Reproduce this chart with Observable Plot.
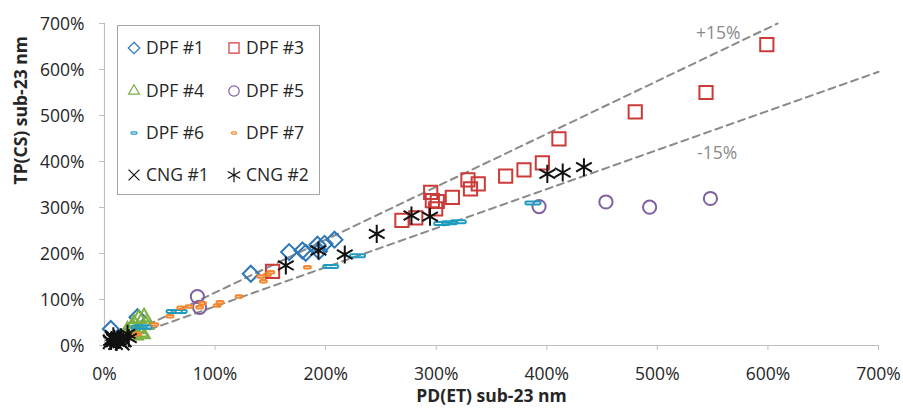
<!DOCTYPE html>
<html><head><meta charset="utf-8">
<script src="https://cdn.jsdelivr.net/npm/d3@7"></script>
<script src="https://cdn.jsdelivr.net/npm/@observablehq/plot@0.6"></script>
<style>
body{margin:0;background:#fff;}
#wrap{position:relative;width:903px;height:410px;font-family:"Open Sans",sans-serif;}
#legend{position:absolute;left:0;top:0;}
</style></head><body><div id="wrap"></div>
<script>
// [PD(ET) %, TP(CS) %]
const dpf1 = [[5.7,36],[29.8,61.5],[12,16],[18,20],[132.3,156],[167,203],[179,206.5],[182,201.5],[192.6,219],[194,205],[199,221],[208,230]];
const dpf3 = [[152,161],[269,272],[281.5,277.6],[295,333],[296.5,315],[301,313],[299.5,297],[314.6,322],[328.7,360],[331,340.6],[338,351.5],[362.8,368],[379.4,382],[396,397],[411,449],[480,508],[544,550],[599,654]];
const dpf4 = [[20.8,32.6],[25.3,40],[26.6,47.6],[29.8,36],[31,58],[32.8,29],[35.8,61.5],[34.4,25],[28,22],[37.3,45]];
const dpf5 = [[84,106.5],[86,83],[393,302],[453.5,312],[493,300.7],[548,319.6]];
const dpf6 = [[31.3,40],[35.8,40],[63,74],[67.5,74],[204.6,171.7],[228.8,195],[305,265],[312,267],[320,269],[387.5,310]];
const dpf7 = [[25,22],[30,25],[45.5,45.6],[59.3,63.7],[69,82],[76.5,84.8],[86,83],[88.6,92],[102,87],[104.5,94],[121.7,106.5],[141.3,150],[143.7,139.8],[147.4,154],[150.4,159],[183.5,170]];
const cng1 = [[5,8],[8,12],[10,6],[12,15],[14,10],[7,18],[16,5],[18,12]];
const cng2 = [[6,10],[8.7,14.6],[11,8],[13,12],[20.8,25.4],[22,16],[8,20],[15,18],[164,174],[193.5,206.5],[217.3,197.8],[246.2,242.8],[277.6,282.6],[294.4,280],[400.5,373],[414.4,376],[433.6,387.6]];

const xTicks = [0,100,200,300,400,500,600,700];
const yTicks = [0,100,200,300,400,500,600,700];
const bands = [{label:"+15%", k:1.15},{label:"-15%", k:0.85}];
const bandLabels = [{t:"+15%", x:555, y:678},{t:"-15%", x:554, y:417}];

function dashSymbol(w, h){
  return {draw(ctx){ const x=-w/2, y=-h/2, r=Math.min(1.2,h/2);
    ctx.moveTo(x+r,y); ctx.lineTo(x+w-r,y); ctx.arcTo(x+w,y,x+w,y+r,r); ctx.lineTo(x+w,y+h-r);
    ctx.arcTo(x+w,y+h,x+w-r,y+h,r); ctx.lineTo(x+r,y+h); ctx.arcTo(x,y+h,x,y+h-r,r);
    ctx.lineTo(x,y+r); ctx.arcTo(x,y,x+r,y,r); ctx.closePath(); }};
}

const series = [
  {name:"DPF #1", data:dpf1, symbol:"diamond2", r:7.2, color:"#2e78b8", lsym:d3.symbolDiamond2, lr:5.2},
  {name:"DPF #3", data:dpf3, symbol:"square2", r:8.4, color:"#cc3b38", lsym:d3.symbolSquare2, lr:6.4},
  {name:"DPF #4", data:dpf4, symbol:"triangle2", r:7, color:"#7cb043", lsym:d3.symbolTriangle2, lr:5.2},
  {name:"DPF #5", data:dpf5, symbol:"circle", r:6.6, color:"#8060a0", lsym:d3.symbolCircle, lr:5.2},
  {name:"DPF #6", data:dpf6, symbol:dashSymbol(15,3), r:5, color:"#1e9cbf", lsym:dashSymbol(6,2.2), lr:4},
  {name:"DPF #7", data:dpf7, symbol:dashSymbol(7,2.5), r:5, color:"#f5882f", lsym:dashSymbol(5,2.2), lr:4},
  {name:"CNG #1", data:cng1, symbol:"times", r:6.5, color:"#111", lsym:d3.symbolTimes, lr:5},
  {name:"CNG #2", data:cng2, symbol:"asterisk", r:8.6, color:"#111", lsym:d3.symbolAsterisk, lr:6.8}
];

const bandLines = bands.map(b => ({label:b.label, pts:[[0,0],[Math.min(700,700/b.k), Math.min(700,700/b.k)*b.k]]}));
const FS = 17.5;

const plot = Plot.plot({
  width: 903, height: 410,
  marginLeft: 104, marginRight: 25, marginTop: 23, marginBottom: 65,
  x: {domain:[0,700]},
  y: {domain:[0,700]},
  style: {fontFamily:"'Open Sans', sans-serif", fontSize:FS+"px", color:"#262626", background:"#fff", overflow:"visible"},
  marks: [
    Plot.ruleY([0], {stroke:"#bfbfbf", strokeWidth:1.2}),
    Plot.ruleX([0], {stroke:"#bfbfbf", strokeWidth:1.2}),
    Plot.axisX({ticks:xTicks, tickSize:5, tickFormat:()=>"", stroke:"#bfbfbf", label:null}),
    Plot.axisY({ticks:yTicks, tickSize:5, tickFormat:()=>"", stroke:"#bfbfbf", label:null}),
    Plot.text(xTicks, {x:d=>d, text:d=>d+"%", frameAnchor:"bottom", lineAnchor:"top", dy:22, fontSize:FS, fill:"#262626"}),
    Plot.text(yTicks, {y:d=>d, text:d=>d+"%", frameAnchor:"left", textAnchor:"end", dx:-20, dy:1, fontSize:FS, fill:"#262626"}),
    Plot.text(["PD(ET) sub-23 nm"], {frameAnchor:"bottom", dy:56, fontWeight:"bold", fontSize:FS, fill:"#262626"}),
    Plot.text(["TP(CS) sub-23 nm"], {frameAnchor:"left", dx:-83, rotate:-90, fontWeight:"bold", fontSize:FS, fill:"#262626"}),
    ...bandLines.map(b => Plot.line(b.pts, {x:d=>d[0], y:d=>d[1], stroke:"#8a8a8a", strokeWidth:2, strokeDasharray:"7,5"})),
    Plot.text(bandLabels, {x:"x", y:"y", text:"t", fill:"#8a8a8a", fontSize:FS}),
    ...series.map(s => Plot.dot(s.data, {x:d=>d[0], y:d=>d[1], symbol:s.symbol, r:s.r, stroke:s.color, strokeWidth:2, fill:"none"}))
  ]
});

const wrap = document.getElementById("wrap");
wrap.appendChild(plot);

// legend overlay inside the plot area
const lg = d3.select(wrap).append("svg").attr("id","legend").attr("width",903).attr("height",410)
  .style("position","absolute").style("left","0px").style("top","0px").style("font-family","'Open Sans', sans-serif");
lg.append("rect").attr("x",117.5).attr("y",25.5).attr("width",202).attr("height",169)
  .attr("fill","#fff").attr("stroke","#a6a6a6").attr("stroke-width",1);
const rowsY = [48,91,133,175], colsX = [134,234];
series.forEach((s,i) => {
  const cx = colsX[i%2], cy = rowsY[Math.floor(i/2)];
  lg.append("path").attr("d", d3.symbol(s.lsym, Math.PI*s.lr*s.lr)())
    .attr("transform",`translate(${cx},${cy})`).attr("fill","none").attr("stroke",s.color).attr("stroke-width",1.2);
  lg.append("text").attr("x",cx+12).attr("y",cy).attr("dy","0.36em").attr("font-size",FS).attr("fill","#262626").text(s.name);
});
</script>
</body></html>
